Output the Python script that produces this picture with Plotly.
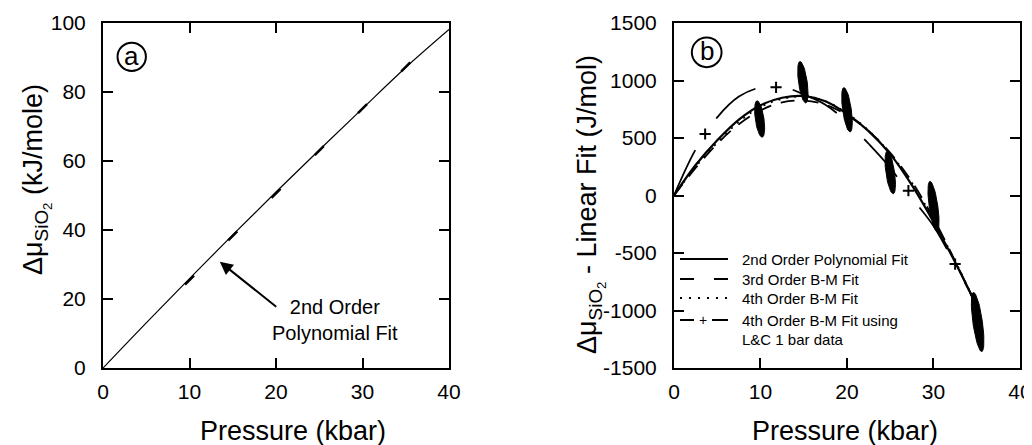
import numpy as np
import plotly.graph_objects as go

# ---------------- data: panel (a) ----------------
pa_P = [0, 5, 10, 15, 20, 25, 30, 35, 40]
pa_mu = [0, 13.1, 25.9, 38.6, 51.0, 63.2, 75.2, 87.1, 98.1]
pa_pt_P = [10, 15, 20, 25, 30, 35]
pa_pt_mu = [25.5, 38.3, 50.6, 63.0, 75.2, 87.3]
pa_x_ticks = [0, 10, 20, 30, 40]
pa_y_ticks = [0, 20, 40, 60, 80, 100]

# ---------------- data: panel (b) ----------------
pb_P = [0, 2.5, 5, 7.5, 10, 12.5, 15, 17.5, 20, 22.5, 25, 27.5, 30, 32.5, 35]
poly2 = [0, 265, 480, 660, 785, 850, 865, 820, 710, 560, 360, 90, -230, -580, -960]
bm3 = [0, 240, 450, 620, 740, 810, 825, 790, 700, 560, 370, 120, -200, -570, -970]
bm4 = [0, 250, 460, 640, 770, 840, 860, 820, 715, 565, 365, 110, -210, -570, -960]
bm4_lc = [0, 400, 680, 860, 940, 945, 880, 790, 640, 450, 240, -20, -265, -600, -950]
lc_plus_P = [3.6, 11.8, 27.1, 32.5]
lc_plus_v = [535, 941, 42, -596]
ell_P = [9.9, 14.9, 20.0, 25.0, 30.0, 35.1]
ell_v = [665, 985, 745, 200, -95, -1100]
ell_half_v = [160, 182, 195, 187, 220, 260]
ell_half_P = [0.5, 0.5, 0.5, 0.5, 0.5, 0.55]
pb_x_ticks = [0, 10, 20, 30, 40]
pb_y_ticks = [-1500, -1000, -500, 0, 500, 1000, 1500]
pb_y_labels = ["-1500", "-1000", "-500", "0", "500", "1000", "1500"]

FONT = "Liberation Sans, Arial, Helvetica, sans-serif"

fig = go.Figure()

# panel a
fig.add_trace(go.Scatter(x=pa_P, y=pa_mu, mode="lines", line=dict(color="black", width=1.2),
                         xaxis="x", yaxis="y", showlegend=False, line_shape="spline"))
fig.add_trace(go.Scatter(x=pa_pt_P, y=pa_pt_mu, mode="markers",
                         marker=dict(symbol="line-ne", size=9, line=dict(width=2.5, color="black")),
                         xaxis="x", yaxis="y", showlegend=False))

# panel b curves
fig.add_trace(go.Scatter(x=pb_P, y=poly2, mode="lines", line=dict(color="black", width=2.2),
                         line_shape="spline", xaxis="x2", yaxis="y2", showlegend=False))
fig.add_trace(go.Scatter(x=pb_P, y=bm3, mode="lines", line=dict(color="black", width=1.8, dash="14px,10px"),
                         line_shape="spline", xaxis="x2", yaxis="y2", showlegend=False))
fig.add_trace(go.Scatter(x=pb_P, y=bm4, mode="lines", line=dict(color="black", width=1.8, dash="2px,6px"),
                         line_shape="spline", xaxis="x2", yaxis="y2", showlegend=False))
fig.add_trace(go.Scatter(x=pb_P, y=bm4_lc, mode="lines", line=dict(color="black", width=1.8, dash="50px,38px"),
                         line_shape="spline", xaxis="x2", yaxis="y2", showlegend=False))
fig.add_trace(go.Scatter(x=lc_plus_P, y=lc_plus_v, mode="markers",
                         marker=dict(symbol="cross-thin", size=8, line=dict(width=2, color="black")),
                         xaxis="x2", yaxis="y2", showlegend=False))

# error ellipses (geometry in pixel space, converted back through the axis scales)
px_per_P = 346 / 40.0
px_per_v = 345 / 3000.0
theta = np.deg2rad(8)
t = np.linspace(0, 2 * np.pi, 60)
for cP, cv, hv, hP in zip(ell_P, ell_v, ell_half_v, ell_half_P):
    a = hv * px_per_v
    b = hP * px_per_P
    dx = a * np.sin(t) * (-np.sin(theta)) + b * np.cos(t) * np.cos(theta)
    dy = a * np.sin(t) * np.cos(theta) + b * np.cos(t) * np.sin(theta)
    fig.add_trace(go.Scatter(x=cP + dx / px_per_P, y=cv + dy / px_per_v, mode="lines",
                             fill="toself", fillcolor="black", line=dict(color="black", width=1),
                             xaxis="x2", yaxis="y2", showlegend=False, hoverinfo="skip"))

axis_common = dict(ticks="inside", ticklen=10, tickwidth=2, tickcolor="black", mirror="allticks",
                   showline=True, linewidth=2, linecolor="black", showgrid=False, zeroline=False,
                   automargin=False, tickfont=dict(size=21, color="black", family=FONT))

# page body has an 8px margin: figure is 1024x437 so that it ends at the window edges
fig.update_layout(
    width=1024, height=437,
    margin=dict(l=95, r=12, t=15, b=77, autoexpand=False),
    paper_bgcolor="white", plot_bgcolor="white",
    font=dict(family=FONT, color="black"),
    xaxis=dict(domain=[0, 0.37732], range=[0, 40], tickvals=pa_x_ticks, anchor="y",
               ticklabelstandoff=4, **axis_common),
    yaxis=dict(domain=[0, 1], range=[0, 100], tickvals=pa_y_ticks, anchor="x",
               ticklabelstandoff=11, **axis_common),
    xaxis2=dict(domain=[0.62268, 1.0], range=[0, 40], tickvals=pb_x_ticks, anchor="y2",
                ticklabelstandoff=4, **axis_common),
    yaxis2=dict(domain=[0, 1], range=[-1500, 1500], tickvals=pb_y_ticks, ticktext=pb_y_labels,
                anchor="x2", ticklabelstandoff=11, **axis_common),
)

annotations = []
# axis titles
annotations.append(dict(text="Pressure (kbar)", x=(293 - 103) / 917, y=(368 - 431) / 345, xref="paper", yref="paper",
                        showarrow=False, font=dict(size=27), xanchor="center", yanchor="middle"))
annotations.append(dict(text="Pressure (kbar)", x=(845 - 103) / 917, y=(368 - 431) / 345, xref="paper", yref="paper",
                        showarrow=False, font=dict(size=27), xanchor="center", yanchor="middle"))
annotations.append(dict(text="Δμ<sub>SiO<sub>2</sub></sub> (kJ/mole)", x=(36 - 103) / 917, y=(368 - 180) / 345,
                        xref="paper", yref="paper", showarrow=False, font=dict(size=27), textangle=-90,
                        xanchor="center", yanchor="middle"))
annotations.append(dict(text="Δμ<sub>SiO<sub>2</sub></sub> - Linear Fit (J/mol)", x=(590 - 103) / 917,
                        y=(368 - 205) / 345, xref="paper", yref="paper", showarrow=False, font=dict(size=27),
                        textangle=-90, xanchor="center", yanchor="middle"))
# panel a arrow + label
annotations.append(dict(x=13.5, y=30.8, ax=20.2, ay=17.4, xref="x", yref="y", axref="x", ayref="y",
                        text="", showarrow=True, arrowhead=2, arrowsize=1.3, arrowwidth=2, arrowcolor="black"))
annotations.append(dict(text="2nd Order<br>Polynomial Fit", x=26.8, y=14.0, xref="x", yref="y", showarrow=False,
                        font=dict(size=20), xanchor="center", yanchor="middle", align="center"))
# panel letters
annotations.append(dict(text="a", x=0.083, y=0.905, xref="x domain", yref="y domain", showarrow=False,
                        font=dict(size=26), xanchor="center", yanchor="middle"))
annotations.append(dict(text="b", x=0.0945, y=0.918, xref="x2 domain", yref="y2 domain", showarrow=False,
                        font=dict(size=26), xanchor="center", yanchor="middle"))

# manual legend in panel b
leg_x0, leg_x1, leg_tx = (680 - 674) / 346, (728 - 674) / 346, (740 - 674) / 346
rows = [(369 - 260) / 345, (369 - 280) / 345, (369 - 299) / 345, (369 - 321) / 345]
row_txt = (369 - 340) / 345
labels = ["2nd Order Polynomial Fit", "3rd Order B-M Fit", "4th Order B-M Fit", "4th Order B-M Fit using"]
for yy, lab in zip(rows, labels):
    annotations.append(dict(text=lab, x=leg_tx, y=yy, xref="x2 domain", yref="y2 domain", showarrow=False,
                            font=dict(size=15), xanchor="left", yanchor="middle"))
annotations.append(dict(text="L&C 1 bar data", x=leg_tx, y=row_txt, xref="x2 domain", yref="y2 domain",
                        showarrow=False, font=dict(size=15), xanchor="left", yanchor="middle"))
annotations.append(dict(text="+", x=(703 - 674) / 346, y=rows[3], xref="x2 domain", yref="y2 domain",
                        showarrow=False, font=dict(size=14), xanchor="center", yanchor="middle"))
fig.update_layout(annotations=annotations)

shapes = []
shapes.append(dict(type="circle", xref="x domain", yref="y domain", x0=0.083 - 0.041, x1=0.083 + 0.041,
                   y0=0.902 - 0.041, y1=0.902 + 0.041, line=dict(color="black", width=2)))
shapes.append(dict(type="circle", xref="x2 domain", yref="y2 domain", x0=0.0945 - 0.043, x1=0.0945 + 0.043,
                   y0=0.915 - 0.043, y1=0.915 + 0.043, line=dict(color="black", width=2)))
shapes.append(dict(type="line", xref="x2 domain", yref="y2 domain", x0=leg_x0, x1=leg_x1, y0=rows[0], y1=rows[0],
                   line=dict(color="black", width=2)))
shapes.append(dict(type="line", xref="x2 domain", yref="y2 domain", x0=leg_x0, x1=leg_x1, y0=rows[1], y1=rows[1],
                   line=dict(color="black", width=2, dash="14px,20px")))
shapes.append(dict(type="line", xref="x2 domain", yref="y2 domain", x0=leg_x0, x1=leg_x1, y0=rows[2], y1=rows[2],
                   line=dict(color="black", width=2, dash="2px,7px")))
shapes.append(dict(type="line", xref="x2 domain", yref="y2 domain", x0=leg_x0, x1=(694 - 674) / 346, y0=rows[3],
                   y1=rows[3], line=dict(color="black", width=2)))
shapes.append(dict(type="line", xref="x2 domain", yref="y2 domain", x0=(712 - 674) / 346, x1=leg_x1, y0=rows[3],
                   y1=rows[3], line=dict(color="black", width=2)))
fig.update_layout(shapes=shapes)

fig.write_html("out.html")
